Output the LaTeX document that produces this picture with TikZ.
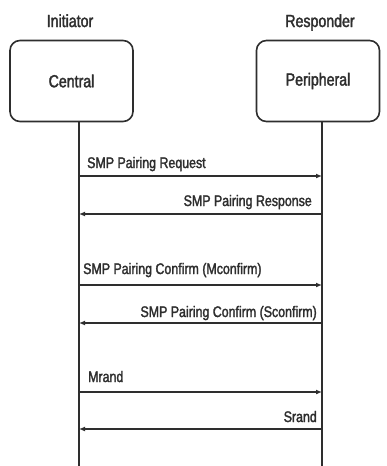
\documentclass[tikz,border=0pt]{standalone}
\usepackage{fontspec}
\setmainfont{Liberation Sans}[FakeStretch=0.81,FakeBold=2]
\usetikzlibrary{arrows.meta}
\definecolor{ink}{HTML}{2E2E2E}
\begin{document}
\begin{tikzpicture}[x=1pt,y=-1pt,
  party/.style={draw=ink,line width=1.6pt,rounded corners=10pt,minimum width=123pt,minimum height=81pt,text=ink,font=\fontsize{17.5}{20}\selectfont,inner sep=0pt},
  role/.style={text=ink,font=\fontsize{17.5}{20}\selectfont,inner sep=0pt},
  lifeline/.style={draw=ink,line width=1.4pt},
  msg/.style={draw=ink,line width=1.3pt,-{Latex[length=6pt,width=5pt]}},
  msglabel/.style={text=ink,font=\fontsize{15.3}{17}\selectfont,inner sep=0pt}]
\useasboundingbox (0,0) rectangle (386,466);
% participants
\node[party] (central) at (71.5,81) {Central};
\node[party] (peri) at (318,81) {Peripheral};
\node[role,anchor=base] (init) at (70,27) {Initiator};
\node[role,anchor=base] (resp) at (320,27) {Responder};
% lifelines
\coordinate (cl) at (79,466);
\coordinate (pl) at (322,466);
\draw[lifeline] (central.south -| cl) -- (cl);
\draw[lifeline] (peri.south -| pl) -- (pl);
% message endpoints
\foreach \n/\y in {a/176,b/214,c/285,d/323,e/392,f/429}{
  \coordinate (c\n) at (79,\y);
  \coordinate (p\n) at (322,\y);
}
\draw[msg] (ca) -- (pa);
\draw[msg] (pb) -- (cb);
\draw[msg] (cc) -- (pc);
\draw[msg] (pd) -- (cd);
\draw[msg] (ce) -- (pe);
\draw[msg] (pf) -- (cf);
% labels
\node[msglabel,anchor=base west] (la) at (87,168) {SMP Pairing Request};
\node[msglabel,anchor=base east] (lb) at (312,206) {SMP Pairing Response};
\node[msglabel,anchor=base west] (lc) at (83,274) {SMP Pairing Confirm (Mconfirm)};
\node[msglabel,anchor=base east] (ld) at (317,317) {SMP Pairing Confirm (Sconfirm)};
\node[msglabel,anchor=base west] (le) at (88,382) {Mrand};
\node[msglabel,anchor=base east] (lf) at (317,422) {Srand};
\end{tikzpicture}
\end{document}
